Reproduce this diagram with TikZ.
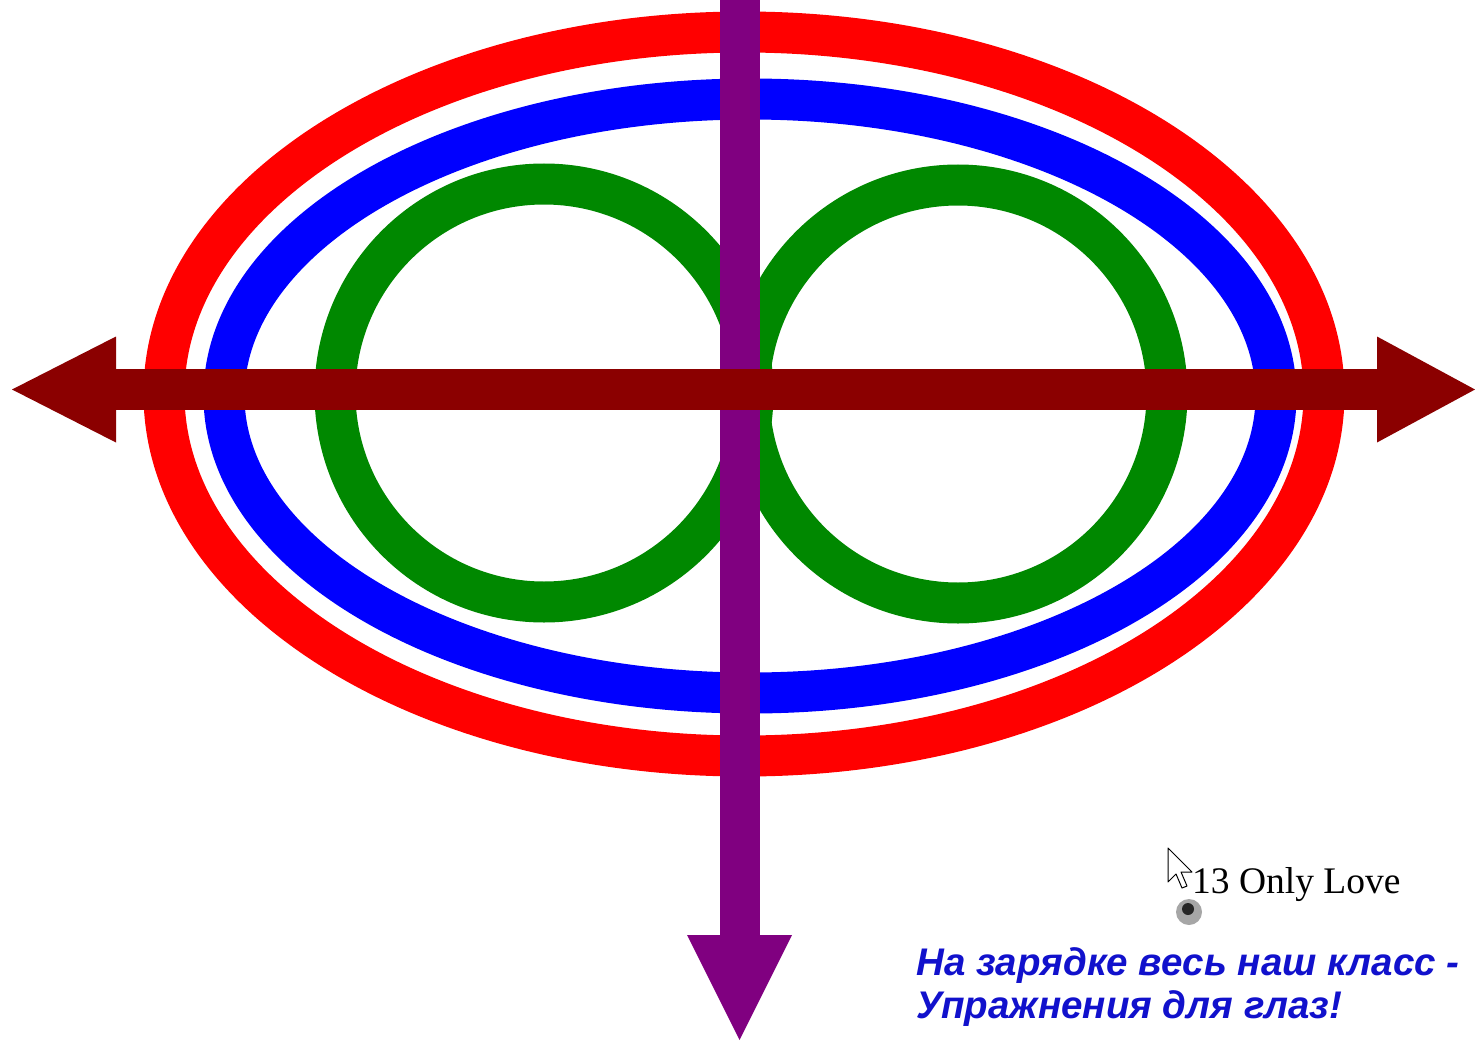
\documentclass[tikz,border=0pt]{standalone}
\usepackage{fontspec}
\setmainfont{Liberation Serif}
\newfontfamily\cyrfont{Liberation Sans}
\usepackage{tikz}
\usetikzlibrary{arrows.meta,positioning}
\definecolor{ringred}{RGB}{255,0,0}
\definecolor{ringblue}{RGB}{0,0,255}
\definecolor{ringgreen}{RGB}{0,136,0}
\definecolor{axispurple}{RGB}{128,0,128}
\definecolor{axisred}{RGB}{139,0,0}
\definecolor{verseblue}{RGB}{17,17,204}

\begin{document}
\begin{tikzpicture}[
  x=1pt, y=-1pt,
  ring/.style={line width=41pt},
  axisarrow/.style={line width=40pt, -{Triangle[length=105pt, width=105pt, line width=0pt]}},
  twoway/.style={line width=41pt, {Triangle[length=104pt, width=106pt, line width=0pt]}-{Triangle[length=98pt, width=106pt, line width=0pt]}},
  songlbl/.style={anchor=base west, inner sep=0pt, font=\fontsize{37.5}{45}\selectfont},
  verse/.style={anchor=base west, inner sep=0pt, text=verseblue, font=\cyrfont\bfseries\itshape\fontsize{38.5}{46}\selectfont}
]
\useasboundingbox (0,0) rectangle (1475,1041);

% rings
\draw[ring, ringred] (744,394) ellipse [x radius=580, y radius=362];
\draw[ring, ringblue] (750,396) ellipse [x radius=526, y radius=297];
\draw[ring, ringgreen] (544,393) circle [radius=209];
\draw[ring, ringgreen] (958,394) circle [radius=209];

% axes
\coordinate (top) at (739.5,0);
\coordinate (bottom) at (739.5,1040);
\coordinate (west) at (12,389.5);
\coordinate (east) at (1475,389.5);
\draw[axisarrow, axispurple] (top) -- (bottom);
\draw[twoway, axisred] (west) -- (east);

% pointer and speaker
\draw[black, line width=1pt, fill=white, line join=round]
  (1168,848) -- (1168,882) -- (1176,874) -- (1182,888) -- (1187,886) -- (1181,872) -- (1192,872) -- cycle;
\fill[gray!70] (1189,912) circle [radius=13];
\fill[gray!30!black] (1188,909) circle [radius=6];

% labels
\node[songlbl] (song) at (1192,893) {13 Only Love};
\node[verse] (line1) at (916,975) {На зарядке весь наш класс -};
\node[verse] (line2) at (916,1018) {Упражнения для глаз!};
\end{tikzpicture}
\end{document}
